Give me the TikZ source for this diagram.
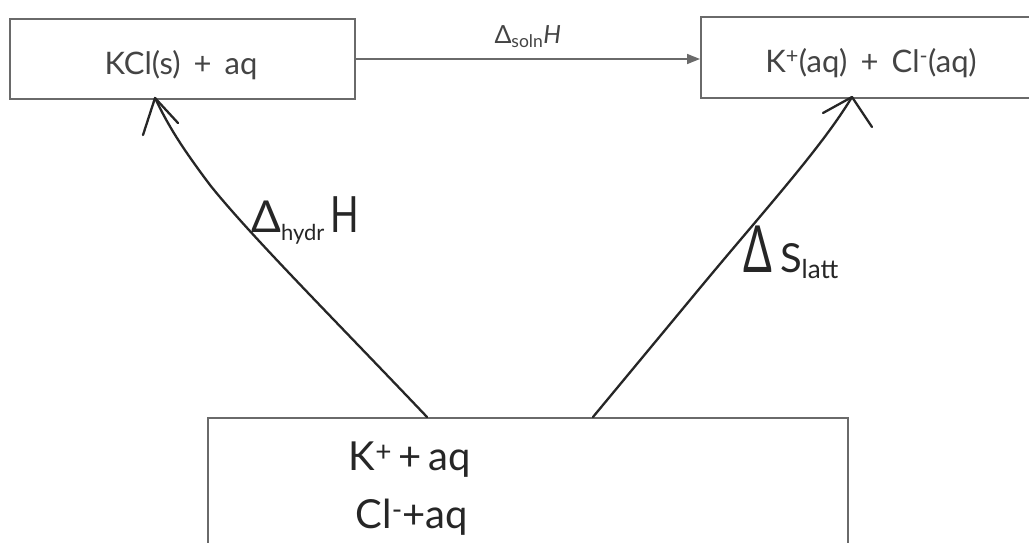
\documentclass[tikz,border=0pt]{standalone}
\usepackage{fontspec}
\setmainfont{Lato}
\usetikzlibrary{arrows.meta}
\definecolor{boxgray}{HTML}{6A6A6A}
\definecolor{txtgray}{HTML}{444444}
\definecolor{ink}{HTML}{262626}
\begin{document}
\begin{tikzpicture}[x=1pt,y=-1pt,
  box/.style={draw=boxgray, line width=1.6pt, inner sep=0pt, anchor=north west,
              text=txtgray, font=\fontsize{31}{33}\selectfont},
  hand/.style={draw=ink, line width=2.3pt, line cap=round, line join=round},
  handtext/.style={text=ink, inner sep=0pt}]
\useasboundingbox (0,0) rectangle (1029,543);
\fill[white] (0,0) rectangle (1029,543);
\clip (0,0) rectangle (1029,543);
% boxes
\node[box, minimum width=345pt, minimum height=80pt] (kcl) at (9,18) {};
\node[text=txtgray, font=\fontsize{31}{33}\selectfont, anchor=base] at (181,75) {KCl(s)\, +\, aq};
\node[box, minimum width=342pt, minimum height=81pt] (ions) at (700,16) {};
\node[text=txtgray, font=\fontsize{31}{33}\selectfont, anchor=base] at (871,73) {K\textsuperscript{+}(aq)\, +\, Cl\textsuperscript{-}(aq)};
\node[box, minimum width=640pt, minimum height=200pt] (gas) at (207,417) {};
% typed arrow
\draw[boxgray, line width=1.5pt, -{Triangle[length=13pt,width=10pt]}] (kcl.east |- 0,59) -- (ions.west |- 0,59)
  node[midway, above=7pt, text=txtgray, font=\fontsize{25}{27}\selectfont] (soln) {Δ\textsubscript{soln}\textit{H}};
% handwritten arrows
\coordinate (lb) at (427,417);
\coordinate (lt) at (155,98);
\coordinate (rb) at (593,417);
\coordinate (rt) at (852,97);
\draw[hand] (lb) .. controls (330,315) and (250,235) .. (210,185) .. controls (180,145) and (168,125) .. (lt);
\draw[hand] (143,135) -- (lt) -- (178,123);
\draw[hand] (rb) -- (690,300) .. controls (760,215) and (820,150) .. (rt);
\draw[hand] (823,113) -- (rt) -- (872,127);
% handwritten labels
\node[handtext, anchor=base west] (hydr) at (251,232)
  {\fontsize{44}{44}\selectfont Δ\raisebox{-8pt}{\fontsize{22}{22}\selectfont hydr}\hspace{6pt}\scalebox{0.75}[1]{\fontsize{50}{50}\selectfont H}};
\node[handtext, anchor=base west] (latt) at (743,272)
  {\scalebox{0.85}[1.3]{\fontsize{50}{50}\selectfont Δ}\hspace{8pt}{\fontsize{40}{40}\selectfont S}\raisebox{-6pt}{\fontsize{26}{26}\selectfont latt}};
\node[handtext, font=\fontsize{40}{40}\selectfont] (l1) at (410,460) {K\textsuperscript{+}\,+\,aq};
\node[handtext, font=\fontsize{40}{40}\selectfont] (l2) at (412,517) {Cl\textsuperscript{-}+aq};
\end{tikzpicture}
\end{document}
